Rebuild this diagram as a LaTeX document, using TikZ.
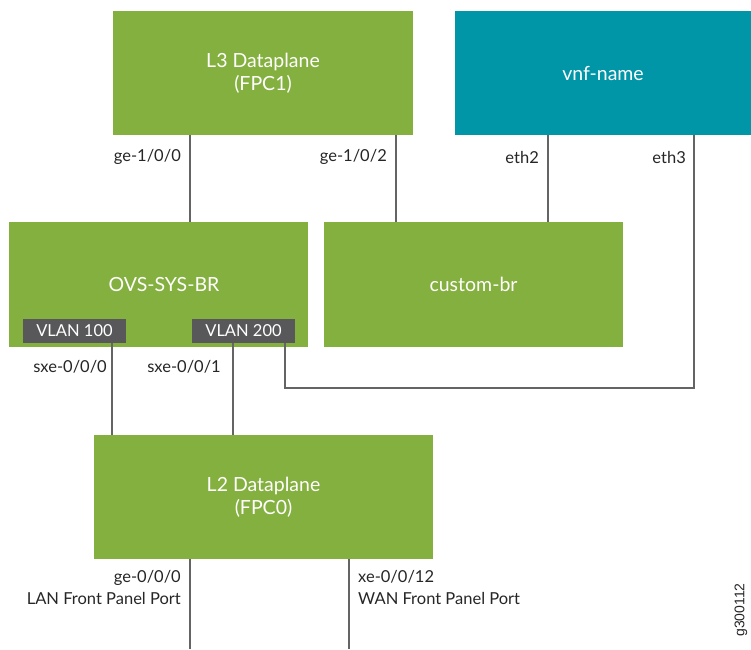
\documentclass[tikz,border=0pt]{standalone}
\usepackage{fontspec}
\setmainfont{Lato}
\newfontfamily\arialfont{Liberation Sans}
\definecolor{jgreen}{RGB}{132,176,64}
\definecolor{jteal}{RGB}{0,150,167}
\definecolor{jgray}{RGB}{88,88,90}
\definecolor{jline}{RGB}{100,100,100}
\begin{document}
\begin{tikzpicture}[x=1pt,y=-1pt,
  box/.style={fill=jgreen,draw=none,inner sep=0pt,font=\fontsize{19.5}{22.5}\selectfont,text=white,align=center},
  tealbox/.style={fill=jteal,draw=none,inner sep=0pt,font=\fontsize{19.5}{23}\selectfont,text=white,align=center},
  vlan/.style={fill=jgray,draw=none,inner sep=0pt,minimum width=103pt,minimum height=24pt,font=\fontsize{16.5}{18}\selectfont,text=white},
  conn/.style={draw=jline,line width=2pt},
  lbl/.style={font=\fontsize{16.5}{22}\selectfont,text=black!85,inner sep=0pt}]
\useasboundingbox (0,0) rectangle (751,649);
\node[box,minimum width=300pt,minimum height=124pt] (l3) at (263,73) {L3 Dataplane\\(FPC1)};
\node[tealbox,minimum width=296pt,minimum height=124pt] (vnf) at (603,73) {vnf-name};
\node[box,minimum width=299pt,minimum height=125pt] (ovs) at (158.5,284.5) {};
\node[font=\fontsize{19.5}{23}\selectfont,text=white] (ovst) at (164,285) {OVS-SYS-BR};
\node[vlan] (v100) at (74.5,331) {VLAN 100};
\node[vlan] (v200) at (243.5,331) {VLAN 200};
\node[box,minimum width=299pt,minimum height=125pt] (cbr) at (473.5,284.5) {custom-br};
\node[box,minimum width=339pt,minimum height=124pt] (l2) at (263.5,497) {L2 Dataplane\\(FPC0)};
\coordinate (b1) at (190,649);
\coordinate (b2) at (349,649);
\coordinate (c1) at (694,388);
\coordinate (c2) at (285,388);
% connectors
\draw[conn] (190,135) -- (190,222);
\draw[conn] (396,135) -- (396,222);
\draw[conn] (548,135) -- (548,222);
\draw[conn] (694,135) -- (c1) -- (c2) -- (285,343);
\draw[conn] (112,343) -- (112,435);
\draw[conn] (233,343) -- (233,435);
\draw[conn] (190,559) -- (b1);
\draw[conn] (349,559) -- (b2);
% labels
\node[lbl,anchor=east] (lg100) at (181,157) {ge-1/0/0};
\node[lbl,anchor=east] (lg102) at (387,157) {ge-1/0/2};
\node[lbl,anchor=east] (le2) at (539,157) {eth2};
\node[lbl,anchor=east] (le3) at (686,157) {eth3};
\node[lbl,anchor=east] (ls0) at (107,367) {sxe-0/0/0};
\node[lbl,anchor=east] (ls1) at (221,367) {sxe-0/0/1};
\node[lbl,anchor=north east,align=right] (lge) at (181,570) {ge-0/0/0\\LAN Front Panel Port};
\node[lbl,anchor=north west,align=left] (lxe) at (358,570) {xe-0/0/12\\WAN Front Panel Port};
\node[font=\arialfont\fontsize{14}{16}\selectfont,rotate=90,inner sep=0pt,text=black!85] (gid) at (741,610) {g300112};
\end{tikzpicture}
\end{document}
